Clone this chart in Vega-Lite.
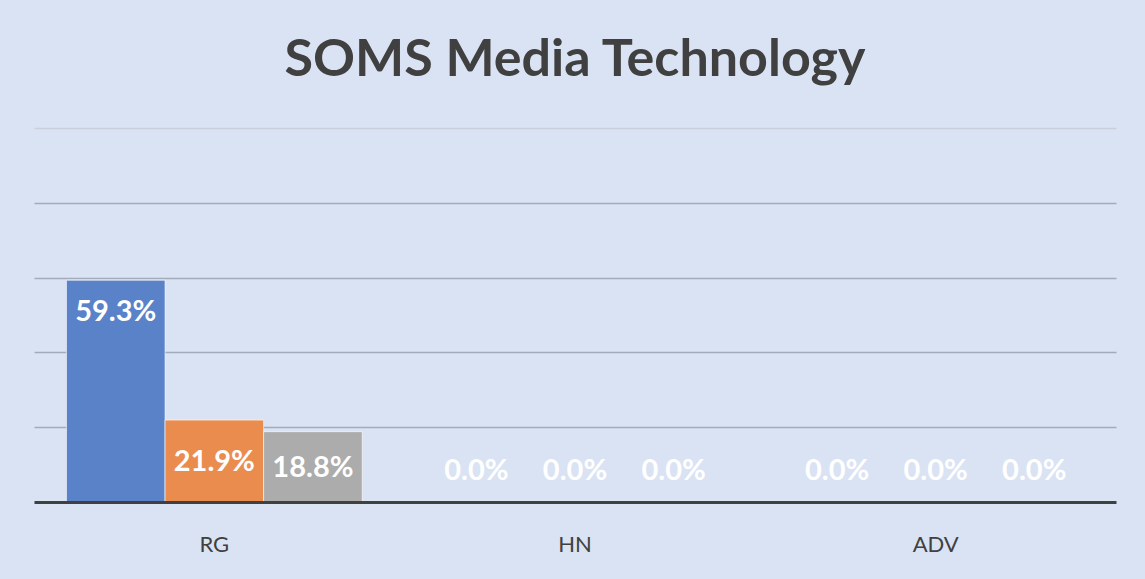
{
  "$schema": "https://vega.github.io/schema/vega-lite/v6.json",
  "autosize": {"type": "none"},
  "width": 1082,
  "height": 374,
  "padding": {"left": 34, "top": 128, "right": 29, "bottom": 77},
  "background": "#dae3f3",
  "title": {
    "text": "SOMS Media Technology",
    "font": "Lato",
    "fontSize": 52,
    "fontWeight": "bold",
    "color": "#404040",
    "anchor": "middle",
    "baseline": "middle",
    "offset": 16
  },
  "data": {
    "values": [
      {"category": "RG", "series": "Series 1", "value": 0.593},
      {"category": "RG", "series": "Series 2", "value": 0.219},
      {"category": "RG", "series": "Series 3", "value": 0.188},
      {"category": "HN", "series": "Series 1", "value": 0},
      {"category": "HN", "series": "Series 2", "value": 0},
      {"category": "HN", "series": "Series 3", "value": 0},
      {"category": "ADV", "series": "Series 1", "value": 0},
      {"category": "ADV", "series": "Series 2", "value": 0},
      {"category": "ADV", "series": "Series 3", "value": 0}
    ]
  },
  "encoding": {
    "x": {
      "field": "category",
      "type": "nominal",
      "sort": ["RG", "HN", "ADV"],
      "scale": {"paddingInner": 0.18, "paddingOuter": 0.09},
      "axis": {
        "title": null,
        "labelAngle": 0,
        "labelFont": "Lato",
        "labelFontSize": 22,
        "labelColor": "#404040",
        "labelPadding": 32,
        "ticks": false,
        "domainColor": "#404040",
        "domainWidth": 3,
        "zindex": 1
      }
    },
    "xOffset": {"field": "series", "type": "nominal", "scale": {"paddingInner": 0, "paddingOuter": 0}}
  },
  "layer": [
    {
      "mark": {"type": "bar", "stroke": "#ffffff", "strokeWidth": 1, "strokeOpacity": 0.6},
      "encoding": {
        "y": {
          "field": "value",
          "type": "quantitative",
          "scale": {"domain": [0, 1]},
          "axis": {
            "title": null,
            "labels": false,
            "ticks": false,
            "domain": false,
            "values": [0.2, 0.4, 0.6, 0.8, 1.0],
            "gridColor": {"condition": {"test": "datum.value >= 0.99", "value": "#c9d0dc"}, "value": "#a3abba"},
            "gridWidth": 1.5
          }
        },
        "color": {
          "field": "series",
          "type": "nominal",
          "scale": {"domain": ["Series 1", "Series 2", "Series 3"], "range": ["#5a82c9", "#eb8c4f", "#acacac"]},
          "legend": null
        }
      }
    },
    {
      "transform": [{"filter": "datum.series === 'Series 1' && datum.value > 0"}],
      "mark": {"type": "text", "font": "Lato", "fontSize": 29, "fontWeight": "bold", "color": "#ffffff", "baseline": "middle", "dy": 32},
      "encoding": {
        "y": {"field": "value", "type": "quantitative"},
        "text": {"field": "value", "type": "quantitative", "format": ".1%"}
      }
    },
    {
      "transform": [
        {"filter": "datum.series !== 'Series 1' && datum.value > 0"},
        {"calculate": "datum.value / 2", "as": "mid"}
      ],
      "mark": {"type": "text", "font": "Lato", "fontSize": 29, "fontWeight": "bold", "color": "#ffffff", "baseline": "middle", "dy": 1},
      "encoding": {
        "y": {"field": "mid", "type": "quantitative"},
        "text": {"field": "value", "type": "quantitative", "format": ".1%"}
      }
    },
    {
      "transform": [{"filter": "datum.value === 0"}],
      "mark": {"type": "text", "font": "Lato", "fontSize": 29, "fontWeight": "bold", "color": "#ffffff", "baseline": "middle", "dy": -31},
      "encoding": {
        "y": {"field": "value", "type": "quantitative"},
        "text": {"field": "value", "type": "quantitative", "format": ".1%"}
      }
    }
  ],
  "config": {"view": {"stroke": null}}
}
